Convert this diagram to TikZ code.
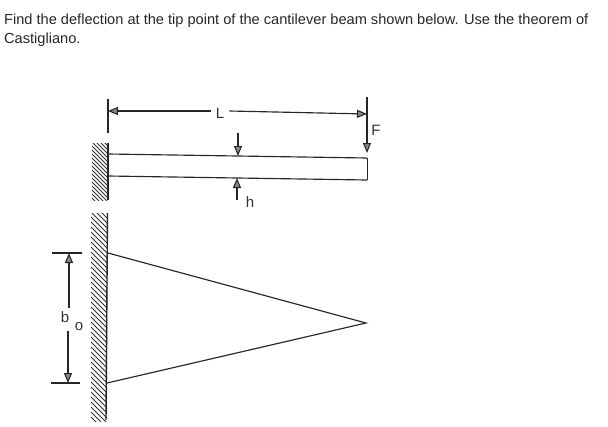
\documentclass[tikz,border=0pt]{standalone}
\usepackage{fontspec}
\setmainfont{Liberation Sans}
\usetikzlibrary{arrows.meta}
\tikzset{
  scan/.style={draw=black!85,line width=1.15pt},
  dimline/.style={scan,-{Triangle[length=10pt,width=8pt,open,fill=black!45,line width=1.1pt]},shorten >=0pt},
  labeltext/.style={inner sep=0pt,text=black!80,font=\fontsize{15}{15}\selectfont},
  hatchline/.style={draw=black!80,line width=1pt},
  question/.style={inner sep=0pt,anchor=base west,text=black!85,font=\fontsize{14.6}{16}\selectfont}
}
\begin{document}
\begin{tikzpicture}[x=1pt,y=-1pt]
\useasboundingbox (0,0) rectangle (608,426);
\node[question] (q1) at (4,24) {Find the deflection at the tip point of the cantilever beam shown below. Use the theorem of};
\node[question] (q2) at (4,43) {Castigliano.};
% upper wall hatching
\begin{scope}
  \clip (92,143) rectangle (108,200);
  \foreach \k in {120,124,...,210} {\draw[hatchline] (90,\k) -- (110,\k+20);}
\end{scope}
% lower wall hatching
\begin{scope}
  \clip (91,213) rectangle (107,421);
  \foreach \k in {190,195,...,425} {\draw[hatchline] (89,\k) -- (109,\k+20);}
\end{scope}
\draw[scan,line width=1.4pt] (108,143) -- (108,200);
\draw[scan,line width=1.4pt] (107.5,213) -- (106,420);
% beam
\coordinate (bTL) at (108,154);
\coordinate (bTR) at (367,158);
\coordinate (bBR) at (367,180);
\coordinate (bBL) at (108,176);
\draw[scan] (bTL) -- (bTR);
\draw[scan] (bBL) -- (bBR);
\draw[scan,line width=0.8pt] (bTR) -- (bBR);
% L dimension
\coordinate (t1a) at (108,99);
\coordinate (t1b) at (108,133);
\coordinate (t2a) at (367,97);
\coordinate (lA) at (108,111);
\coordinate (lB) at (367,114);
\draw[scan] (t1a) -- (t1b);
\node[labeltext] (L) at (220,113) {L};
\draw[dimline] (L.west) ++(-5,-2) coordinate (lAs) (lAs) -- (lA);
\draw[dimline] (L.east) ++(5,-2) coordinate (lBs) (lBs) -- (lB);
% F arrow
\coordinate (fEnd) at (367,153);
\draw[dimline] (t2a) -- (fEnd);
\node[labeltext] (F) at (376,130) {F};
% h arrows
\coordinate (h1a) at (238,133);
\coordinate (h1b) at (238,156);
\coordinate (h2a) at (237,200);
\coordinate (h2b) at (237,178);
\draw[dimline] (h1a) -- (h1b);
\draw[dimline] (h2a) -- (h2b);
\node[labeltext] (h) at (250,202) {h};
% triangle plan
\coordinate (pT) at (108,253);
\coordinate (pTip) at (366,323);
\coordinate (pB) at (107,383);
\draw[scan] (pT) -- (pTip) -- (pB);
% b0 dimension
\coordinate (d1a) at (52,253);
\coordinate (d1b) at (82,253);
\coordinate (d2a) at (51,383);
\coordinate (d2b) at (80,383);
\draw[scan] (d1a) -- (d1b);
\draw[scan] (d2a) -- (d2b);
\coordinate (aT) at (69,253);
\coordinate (aB) at (68,383);
\coordinate (aTs) at (69,308);
\coordinate (aBs) at (68,331);
\draw[dimline] (aTs) -- (aT);
\draw[dimline] (aBs) -- (aB);
\node[labeltext] (b) at (65,317) {b};
\node[labeltext] (o) at (79,327) {o};
\end{tikzpicture}
\end{document}
